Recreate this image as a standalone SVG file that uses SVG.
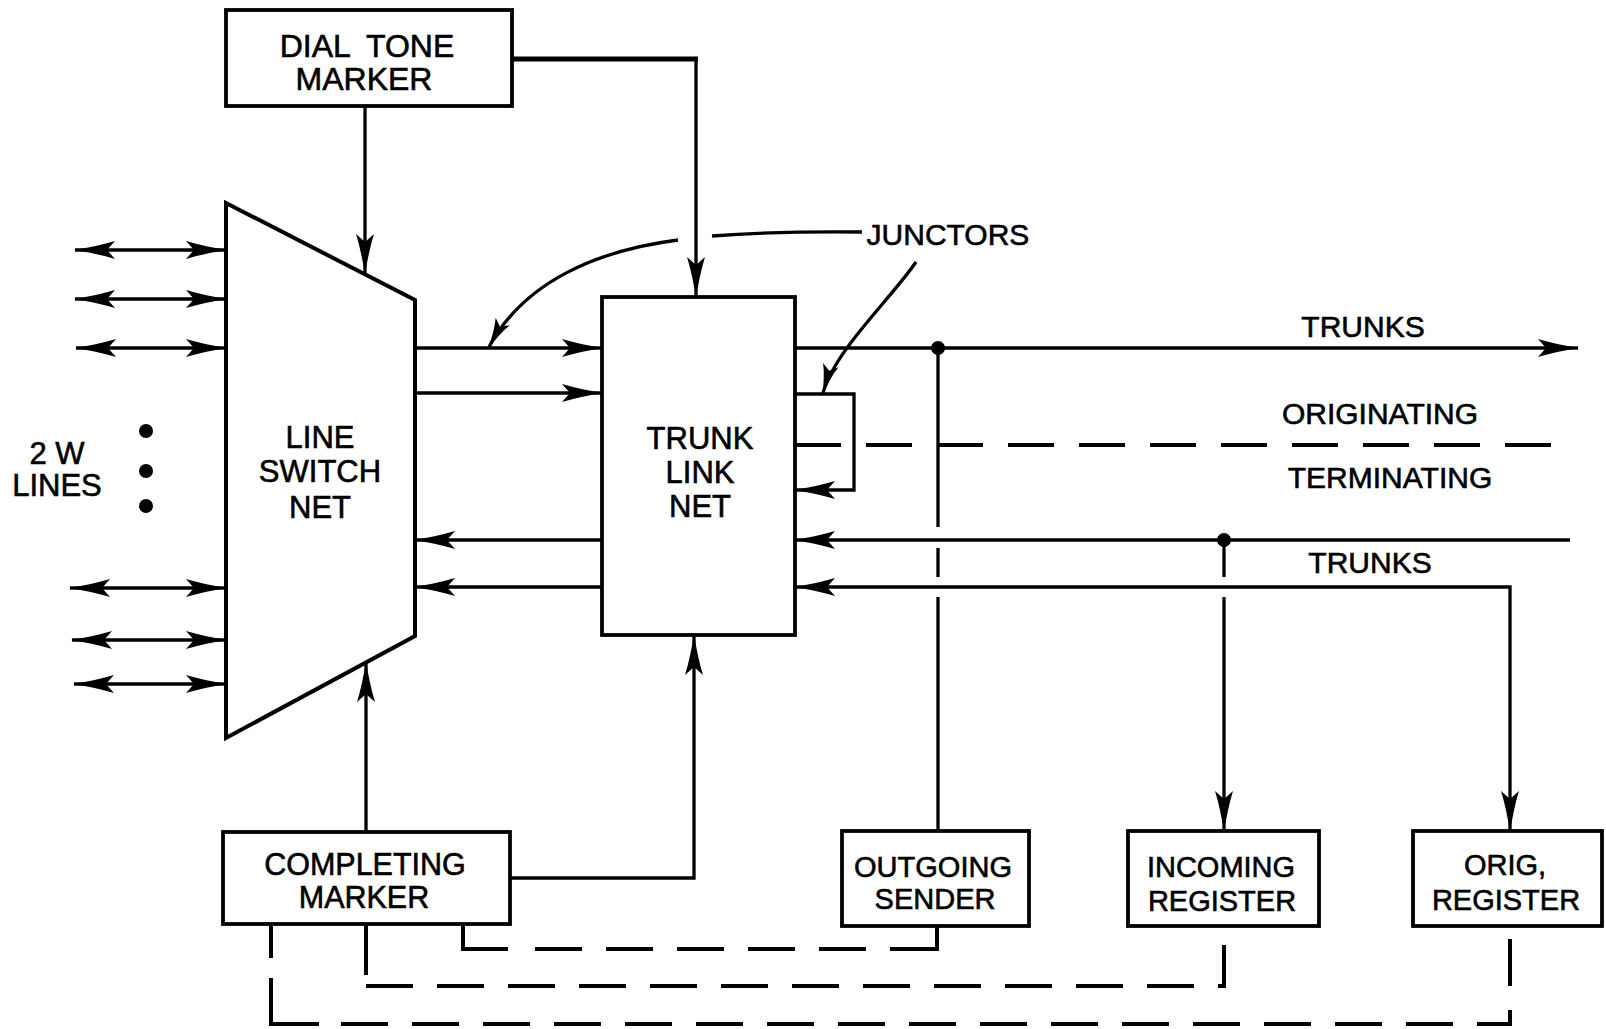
<svg xmlns="http://www.w3.org/2000/svg" width="1606" height="1029" viewBox="0 0 1606 1029">
<style>
.box{fill:#fff;stroke:#000;stroke-width:3.8}
.ln{fill:none;stroke:#000;stroke-width:3.3}
.dl{fill:none;stroke:#000;stroke-width:4}
.t{font-family:"Liberation Sans",Arial,sans-serif;fill:#000;stroke:#000;stroke-width:0.6;text-anchor:middle}
.bt{font-size:31px}
.lb{font-size:30px}
.arr{marker-end:url(#ah)}
</style>
<defs>
<marker id="ah" viewBox="-42 -11 46 22" refX="0" refY="0" markerWidth="46" markerHeight="22" markerUnits="userSpaceOnUse" orient="auto-start-reverse">
<path d="M1,0 C-12,-2 -27,-5 -40,-9 L-32,0 L-40,9 C-27,5 -12,2 1,0 Z" fill="#000"/>
</marker>
<marker id="ahs" viewBox="-32 -9 36 18" refX="0" refY="0" markerWidth="36" markerHeight="18" markerUnits="userSpaceOnUse" orient="auto">
<path d="M1,0 C-9,-2 -20,-4 -29,-8 L-23,0 L-29,8 C-20,4 -9,2 1,0 Z" fill="#000"/>
</marker>
</defs>
<rect width="1606" height="1029" fill="#fff"/>

<g id="connectors">
  <!-- dial tone marker links -->
  <path class="ln arr" d="M365,106 V274"/>
  <path class="ln arr" d="M512,59 H696 V297"/>
  <path d="M512,59 H698" stroke="#000" stroke-width="5" fill="none"/>
  <!-- 2W lines -->
  <path class="ln" marker-start="url(#ah)" marker-end="url(#ah)" d="M75,250 H226"/>
  <path class="ln" marker-start="url(#ah)" marker-end="url(#ah)" d="M75,299 H226"/>
  <path class="ln" marker-start="url(#ah)" marker-end="url(#ah)" d="M76,348 H226"/>
  <path class="ln" marker-start="url(#ah)" marker-end="url(#ah)" d="M70,588 H226"/>
  <path class="ln" marker-start="url(#ah)" marker-end="url(#ah)" d="M72,640 H226"/>
  <path class="ln" marker-start="url(#ah)" marker-end="url(#ah)" d="M74,684 H226"/>
  <!-- LSN <-> TLN -->
  <path class="ln arr" d="M415,348 H602"/>
  <path class="ln arr" d="M415,393 H602"/>
  <path class="ln arr" d="M602,540 H415"/>
  <path class="ln arr" d="M602,587 H415"/>
  <!-- junctor leaders -->
  <path class="ln" d="M862,232 Q780,231 712,236"/>
  <path class="ln" marker-end="url(#ahs)" d="M678,240 C600,250 525,280 489,347"/>
  <path class="ln" marker-end="url(#ahs)" d="M916,262 C890,300 835,350 823,393"/>
  <!-- junctor loop -->
  <path class="ln arr" d="M795,394 H854 V490 H795"/>
  <!-- outgoing trunks -->
  <path class="ln arr" d="M795,348 H1578"/>
  <circle cx="938" cy="348" r="7" fill="#000"/>
  <path class="ln" d="M938,348 V527 M938,548 V577 M938,597 V831"/>
  <!-- originating / terminating division -->
  <path class="dl" stroke-dasharray="46 25" d="M795,445 H1553"/>
  <!-- incoming trunks -->
  <path class="ln arr" d="M1570,540 H795"/>
  <circle cx="1224" cy="540" r="7" fill="#000"/>
  <path class="ln" d="M1224,540 V577"/>
  <path class="ln arr" d="M1224,597 V831"/>
  <!-- lower trunk to orig register -->
  <path class="ln" marker-start="url(#ah)" marker-end="url(#ah)" d="M795,587 H1510 V831"/>
  <!-- completing marker links -->
  <path class="ln arr" d="M366,832 V662"/>
  <path class="ln arr" d="M510,878 H694 V635"/>
  <!-- dashed control paths -->
  <path class="dl" stroke-dasharray="69 27 47 24 47 24 47 24 47 24 47 24 69 10" d="M463,925 V949 H937 V927"/>
  <path class="dl" d="M366,925 V975"/>
  <path class="dl" stroke-dasharray="47 24" d="M366,986 H1224 V926"/>
  <path class="dl" d="M271,926 V958 M271,978 V1024 H319"/>
  <path class="dl" stroke-dasharray="47 24" d="M341,1024 H1510 V926"/>
</g>

<g id="dial-tone-marker">
  <rect class="box" x="226" y="10" width="286" height="96"/>
  <text class="t" x="367" y="57" font-size="32" word-spacing="8">DIAL TONE</text>
  <text class="t" x="364" y="90" font-size="32">MARKER</text>
</g>

<g id="line-switch-net">
  <polygon points="226,203 415,300 415,636 226,738" fill="#fff" stroke="#000" stroke-width="4" stroke-linejoin="miter"/>
  <text class="t bt" x="320" y="448">LINE</text>
  <text class="t bt" x="320" y="482">SWITCH</text>
  <text class="t bt" x="320" y="518">NET</text>
</g>

<g id="trunk-link-net">
  <rect class="box" x="602" y="297" width="193" height="338"/>
  <text class="t bt" x="700" y="449">TRUNK</text>
  <text class="t bt" x="700" y="483">LINK</text>
  <text class="t bt" x="700" y="517">NET</text>
</g>

<g id="lines-label">
  <text class="t bt" x="57" y="464">2 W</text>
  <text class="t bt" x="57" y="496">LINES</text>
  <circle cx="146" cy="431" r="7" fill="#000"/>
  <circle cx="146" cy="471" r="7" fill="#000"/>
  <circle cx="146" cy="506" r="7" fill="#000"/>
</g>

<g id="completing-marker">
  <rect class="box" x="223" y="832" width="287" height="92"/>
  <text class="t" x="365" y="875" font-size="30.5">COMPLETING</text>
  <text class="t" x="364" y="908" font-size="30.5">MARKER</text>
</g>

<g id="outgoing-sender">
  <rect class="box" x="842" y="831" width="187" height="95"/>
  <text class="t" x="933" y="877" font-size="29">OUTGOING</text>
  <text class="t" x="935" y="909" font-size="29">SENDER</text>
</g>

<g id="incoming-register">
  <rect class="box" x="1128" y="831" width="191" height="95"/>
  <text class="t" x="1221" y="877" font-size="29">INCOMING</text>
  <text class="t" x="1222" y="911" font-size="29">REGISTER</text>
</g>

<g id="orig-register">
  <rect class="box" x="1413" y="831" width="189" height="95"/>
  <text class="t" x="1505" y="875" font-size="29">ORIG,</text>
  <text class="t" x="1506" y="910" font-size="29">REGISTER</text>
</g>

<g id="labels">
  <text class="t lb" x="948" y="245">JUNCTORS</text>
  <text class="t lb" x="1363" y="337">TRUNKS</text>
  <text class="t lb" x="1380" y="424">ORIGINATING</text>
  <text class="t lb" x="1390" y="488">TERMINATING</text>
  <text class="t lb" x="1370" y="573">TRUNKS</text>
</g>
</svg>
